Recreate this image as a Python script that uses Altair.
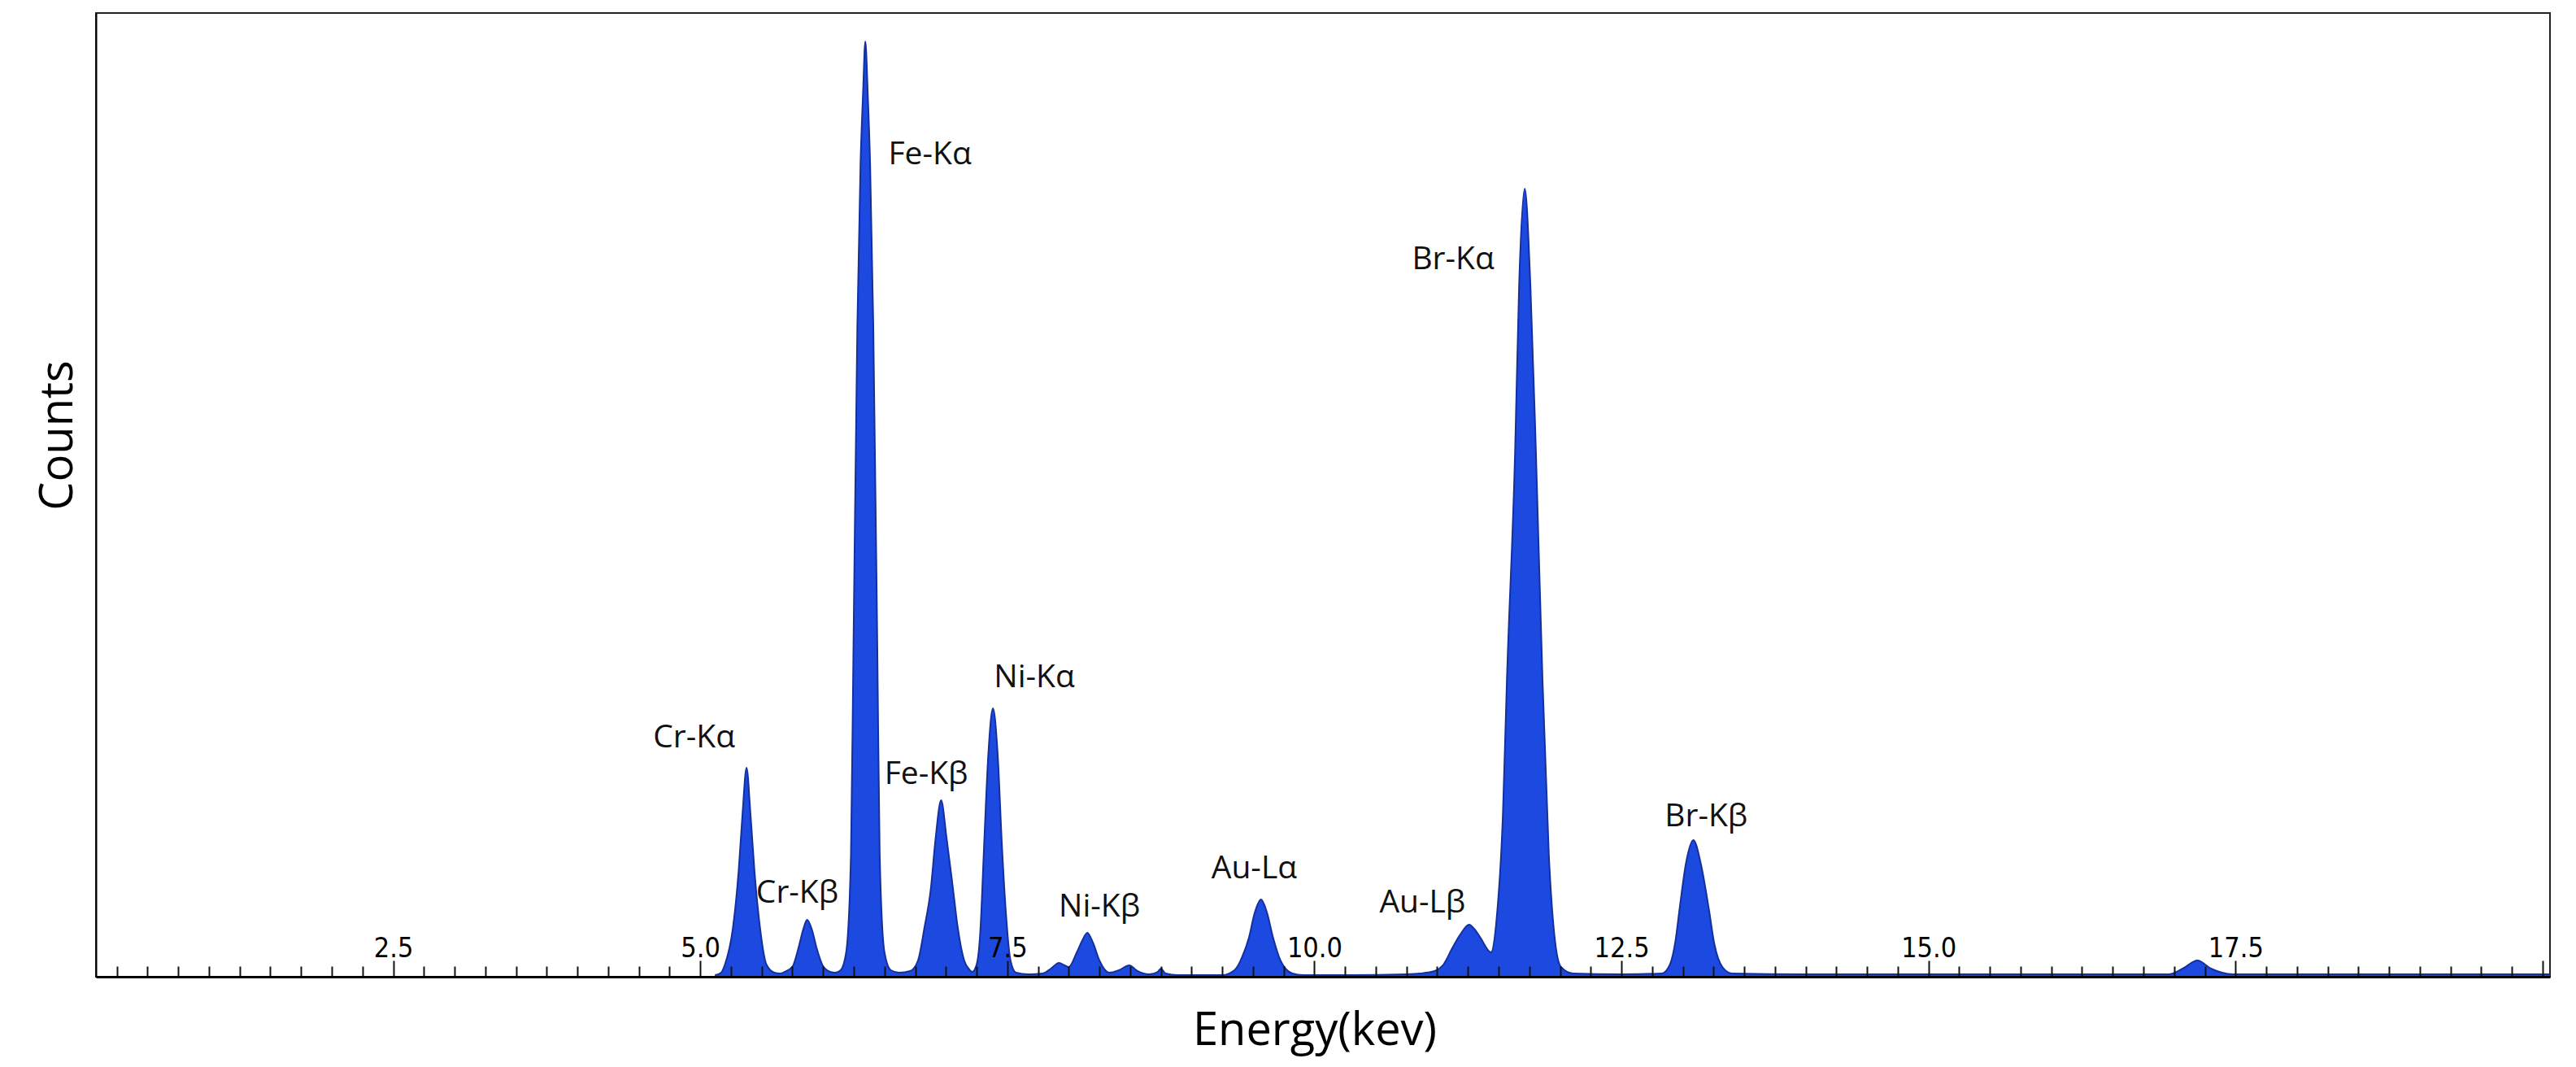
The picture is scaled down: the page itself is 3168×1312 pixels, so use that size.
import altair as alt
import pandas as pd

# ---- spectrum (energy in keV, counts in arbitrary units) ----
energy_kev = [
    5.12, 5.17, 5.201, 5.266, 5.312, 5.344, 5.377, 5.409, 5.442, 5.487, 5.539, 5.604, 5.65,
    5.688, 5.753, 5.799, 5.838, 5.870, 5.909, 5.948, 6.0, 6.058, 6.10,
    6.143, 6.188, 6.227, 6.247, 6.279, 6.305, 6.325, 6.344, 6.364, 6.383, 6.409, 6.442, 6.461, 6.500, 6.552, 6.62,
    6.708, 6.773, 6.825, 6.877, 6.916, 6.961, 7.006, 7.058, 7.097, 7.149, 7.19, 7.214,
    7.25, 7.28, 7.312, 7.344, 7.383, 7.423, 7.455, 7.488, 7.526, 7.571,
    7.671, 7.789, 7.855, 7.921, 7.967, 8.0, 8.066, 8.112, 8.151, 8.197, 8.250, 8.329,
    8.408, 8.493, 8.559, 8.658, 8.724, 8.750, 8.789, 8.888, 9.118, 9.25,
    9.349, 9.414, 9.467, 9.513, 9.566, 9.612, 9.664, 9.724, 9.822, 9.908, 10.3,
    10.741, 10.86, 10.978, 11.056, 11.122, 11.188, 11.26, 11.306, 11.352, 11.437,
    11.483, 11.535, 11.568, 11.634, 11.667, 11.713, 11.759, 11.804, 11.857, 11.909, 11.955, 12.008, 12.106,
    12.5, 12.829, 12.895, 12.941, 12.974, 13.026, 13.086, 13.145, 13.211, 13.257, 13.322, 13.401,
    14.0, 15.0, 16.0, 16.954, 17.07, 17.19, 17.30, 17.48, 18.5, 20.06,
]
counts = [
    2, 5, 15, 60, 129, 200, 257, 200, 129, 60, 15, 5, 4,
    6, 13, 35, 58, 70, 58, 35, 13, 6, 5,
    8, 30, 150, 400, 800, 1000, 1085, 1150, 1085, 1000, 800, 400, 150, 30, 8, 5,
    7, 20, 60, 108, 170, 217, 170, 108, 60, 20, 9, 6,
    15, 55, 165, 270, 330, 270, 165, 80, 20, 5,
    3, 4, 10, 17, 14, 12, 30, 45, 54, 42, 20, 5,
    8, 14, 7, 3, 6, 10, 4, 2, 2, 2,
    8, 25, 48, 78, 95, 80, 48, 20, 4, 2, 2,
    3, 4, 7, 16, 35, 52, 64, 58, 48, 30,
    70, 200, 367, 644, 850, 969, 850, 644, 367, 150, 50, 12, 4,
    3, 4, 15, 45, 84, 140, 168, 140, 84, 40, 12, 4,
    3, 3, 3, 3, 10, 20, 10, 3, 3, 3,
]

# ---- peak annotations ----
label_text = ["Cr-Kα", "Cr-Kβ", "Fe-Kα", "Fe-Kβ", "Ni-Kα", "Ni-Kβ",
              "Au-Lα", "Au-Lβ", "Br-Kα", "Br-Kβ"]
label_kev = [4.95, 5.79, 6.87, 6.84, 7.72, 8.25, 9.51, 10.88, 11.13, 13.19]
label_counts = [294, 103, 1011, 249, 368, 86, 133, 91, 882, 197]

# ---- axis ticks ----
x_domain = [0.08, 20.06]
major_ticks = [2.5, 5.0, 7.5, 10.0, 12.5, 15.0, 17.5]
minor_step = 0.25
tick_values = [round(i * minor_step, 2) for i in range(1, 81)]

spec_df = pd.DataFrame({"energy": energy_kev, "counts": counts})
lab_df = pd.DataFrame({"label": label_text, "energy": label_kev, "counts": label_counts})

W, H = 3018, 1185
x_scale = alt.Scale(domain=x_domain, nice=False, zero=False)
y_scale = alt.Scale(domain=[0, H], nice=False)

major_js = "[" + ",".join(str(v) for v in major_ticks) + "]"
is_major = "indexof(" + major_js + ", datum.value) >= 0"

x_axis = alt.Axis(
    orient="top",
    offset=-H,
    values=tick_values,
    title=None,
    grid=False,
    zindex=1,
    domain=True,
    domainColor="#000000",
    domainWidth=3,
    ticks=True,
    tickColor="#111111",
    tickWidth=2,
    tickSize={"condition": {"test": is_major + " || datum.value == 20", "value": 20}, "value": 13},
    labelExpr=is_major + " ? format(datum.value, '.1f') : ''",
    labelOverlap=False,
    labelFlush=False,
    labelBound=False,
    labelFont="Liberation Sans Narrow, DejaVu Sans Condensed, Liberation Sans",
    labelFontSize=34,
    labelColor="#000000",
    labelBaseline="alphabetic",
    labelPadding=5,
)

y_axis = alt.Axis(
    title="Counts",
    ticks=False,
    labels=False,
    grid=False,
    domain=True,
    domainColor="#000000",
    domainWidth=2,
    titleFont="Open Sans",
    titleFontSize=56,
    titleFontWeight="normal",
    titleColor="#000000",
    titleAngle=270,
    titleAlign="center",
    titleBaseline="middle",
    titleX=-47,
    titleY=519,
)

area = alt.Chart(spec_df).mark_area(
    color="#1c4ae0",
    opacity=1,
    interpolate="monotone",
    line={"color": "#142f9e", "strokeWidth": 2},
).encode(
    x=alt.X("energy:Q", scale=x_scale, axis=x_axis),
    y=alt.Y("counts:Q", scale=y_scale, axis=y_axis),
)

labels = alt.Chart(lab_df).mark_text(
    font="Open Sans",
    fontSize=39,
    color="#111111",
    align="center",
    baseline="middle",
).encode(
    x=alt.X("energy:Q", scale=x_scale, axis=x_axis),
    y=alt.Y("counts:Q", scale=y_scale, axis=y_axis),
    text="label:N",
)

chart = alt.layer(area, labels).properties(
    width=W,
    height=H,
    autosize=alt.AutoSizeParams(type="none"),
    padding={"left": 110, "top": 8, "right": 16, "bottom": 103},
    title=alt.TitleParams(
        "Energy(kev)",
        orient="bottom",
        anchor="middle",
        frame="group",
        font="Open Sans",
        fontSize=56,
        fontWeight="normal",
        color="#000000",
        baseline="alphabetic",
        offset=82,
        dx=-10,
    ),
).configure_view(
    stroke="#222222",
    strokeWidth=2,
).configure_axis(grid=False)

chart.save("out.html", embed_options={"renderer": "svg", "actions": False})
